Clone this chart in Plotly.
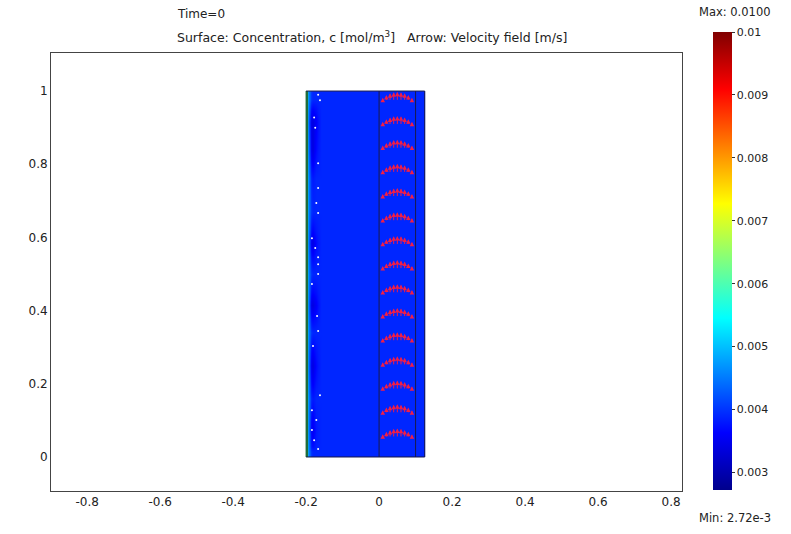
import plotly.graph_objects as go

# ---------------- data ----------------
# concentration field (mol/m^3): columns near the left wall (x edges) and row bands (y edges)
conc_x_edges = [-0.2, -0.1965, -0.1935, -0.190, -0.185, -0.178, -0.168, -0.150, 0.0, 0.1, 0.125]
conc_y_edges = [0.0, 0.03, 0.12, 0.2, 0.3, 0.38, 0.45, 0.55, 0.62, 0.72, 0.8, 0.88, 0.95, 1.0]
conc_rows = [
    [0.0058, 0.0050, 0.0044, 0.0041, 0.0039, 0.0039, 0.0039, 0.0039, 0.0039, 0.0039],
    [0.0058, 0.0049, 0.0043, 0.0037, 0.0035, 0.0038, 0.0039, 0.0039, 0.0039, 0.0039],
    [0.0058, 0.0050, 0.0044, 0.0040, 0.0038, 0.0039, 0.0039, 0.0039, 0.0039, 0.0039],
    [0.0058, 0.0049, 0.0042, 0.0036, 0.0034, 0.0037, 0.0039, 0.0039, 0.0039, 0.0039],
    [0.0058, 0.0050, 0.0044, 0.0041, 0.0039, 0.0039, 0.0039, 0.0039, 0.0039, 0.0039],
    [0.0058, 0.0049, 0.0042, 0.0035, 0.0034, 0.0036, 0.0039, 0.0039, 0.0039, 0.0039],
    [0.0058, 0.0050, 0.0044, 0.0041, 0.0039, 0.0039, 0.0039, 0.0039, 0.0039, 0.0039],
    [0.0058, 0.0049, 0.0042, 0.0036, 0.0034, 0.0037, 0.0039, 0.0039, 0.0039, 0.0039],
    [0.0058, 0.0050, 0.0044, 0.0041, 0.0039, 0.0039, 0.0039, 0.0039, 0.0039, 0.0039],
    [0.0058, 0.0050, 0.0044, 0.0040, 0.0038, 0.0039, 0.0039, 0.0039, 0.0039, 0.0039],
    [0.0058, 0.0049, 0.0042, 0.0036, 0.0034, 0.0037, 0.0039, 0.0039, 0.0039, 0.0039],
    [0.0058, 0.0049, 0.0041, 0.0035, 0.0034, 0.0036, 0.0039, 0.0039, 0.0039, 0.0039],
    [0.0058, 0.0050, 0.0044, 0.0041, 0.0039, 0.0039, 0.0039, 0.0039, 0.0039, 0.0039],
]
conc_min = 0.00272
conc_max = 0.0100

# subdomain geometry (boundaries)
domain_x = [-0.2, 0.0, 0.1, 0.125]
domain_y = [0.0, 1.0]

# velocity arrows: channel positions, tail heights, lengths (parabolic profile)
arrow_x = [0.01, 0.02, 0.03, 0.04, 0.05, 0.06, 0.07, 0.08, 0.09]
arrow_len = [0.010, 0.017, 0.022, 0.025, 0.026, 0.025, 0.022, 0.017, 0.010]
arrow_tail_y = [0.052, 0.118, 0.183, 0.249, 0.315, 0.381, 0.446, 0.512,
                0.578, 0.643, 0.709, 0.775, 0.841, 0.906, 0.972]

# white dotted marks near the left wall
dot_x = [-0.167, -0.162, -0.178, -0.175, -0.167, -0.167, -0.172, -0.167, -0.184, -0.175,
         -0.167, -0.167, -0.167, -0.184, -0.170, -0.167, -0.181, -0.162, -0.184, -0.172,
         -0.184, -0.178, -0.167]
dot_y = [0.990, 0.975, 0.928, 0.900, 0.803, 0.735, 0.694, 0.667, 0.598, 0.571,
         0.546, 0.527, 0.500, 0.473, 0.385, 0.344, 0.303, 0.169, 0.128, 0.101,
         0.074, 0.046, 0.022]

colorbar_ticks = [0.003, 0.004, 0.005, 0.006, 0.007, 0.008, 0.009, 0.01]
colorbar_ticktext = ["0.003", "0.004", "0.005", "0.006", "0.007", "0.008", "0.009", "0.01"]
x_ticks = [-0.8, -0.6, -0.4, -0.2, 0, 0.2, 0.4, 0.6, 0.8]
y_ticks = [0, 0.2, 0.4, 0.6, 0.8, 1]

# ---------------- figure ----------------
jet = [
    [0.0, "rgb(0,0,140)"],
    [0.125, "rgb(0,0,255)"],
    [0.375, "rgb(0,255,255)"],
    [0.625, "rgb(255,255,0)"],
    [0.875, "rgb(255,0,0)"],
    [1.0, "rgb(128,0,0)"],
]

FONT = "DejaVu Sans"
TXT = "#222"
fig = go.Figure()

fig.add_trace(go.Heatmap(
    x=conc_x_edges, y=conc_y_edges, z=conc_rows,
    colorscale=jet, zmin=conc_min, zmax=conc_max, zsmooth="best",
    hoverinfo="skip",
    colorbar=dict(
        lenmode="pixels", len=458, thickness=19,
        x=1.049, xanchor="left", y=0.525, yanchor="middle",
        xpad=0, ypad=0,
        tickvals=colorbar_ticks, ticktext=colorbar_ticktext,
        ticks="outside", ticklen=3, tickcolor="#333",
        tickfont=dict(family=FONT, size=11, color=TXT),
        outlinewidth=0,
    ),
))

# left wall green stripe
fig.add_trace(go.Scatter(x=[domain_x[0] + 0.002, domain_x[0] + 0.002], y=domain_y, mode="lines",
                         line=dict(color="#1f6e3c", width=2.5),
                         hoverinfo="skip", showlegend=False))

# subdomain boundary lines
for xv in domain_x[1:]:
    fig.add_trace(go.Scatter(x=[xv, xv], y=domain_y, mode="lines",
                             line=dict(color="#1a1a4a", width=1),
                             hoverinfo="skip", showlegend=False))
for yv in domain_y:
    fig.add_trace(go.Scatter(x=[domain_x[0], domain_x[-1]], y=[yv, yv], mode="lines",
                             line=dict(color="#1a1a4a", width=1),
                             hoverinfo="skip", showlegend=False))

fig.add_trace(go.Scatter(x=dot_x, y=dot_y, mode="markers",
                         marker=dict(color="white", size=2),
                         hoverinfo="skip", showlegend=False))

# velocity arrows
for ty in arrow_tail_y:
    for ax_, L in zip(arrow_x, arrow_len):
        fig.add_annotation(
            x=ax_, y=ty + L, ax=ax_, ay=ty,
            xref="x", yref="y", axref="x", ayref="y",
            showarrow=True, arrowhead=2, arrowsize=0.9, arrowwidth=1,
            arrowcolor="rgba(255,30,60,0.95)", text="",
        )

# titles and min/max labels
fig.add_annotation(text="Time=0", xref="paper", yref="paper", x=0.1965, y=1.089,
                   xanchor="left", yanchor="middle", showarrow=False,
                   font=dict(family=FONT, size=12, color=TXT))
fig.add_annotation(text="Surface: Concentration, c [mol/m<sup>3</sup>]   Arrow: Velocity field [m/s]",
                   xref="paper", yref="paper", x=0.1965, y=1.0365,
                   xanchor="left", yanchor="middle", showarrow=False,
                   font=dict(family=FONT, size=12.5, color=TXT))
fig.add_annotation(text="Max: 0.0100", xref="paper", yref="paper", x=1.084, y=1.094,
                   xanchor="center", yanchor="middle", showarrow=False,
                   font=dict(family=FONT, size=11.5, color=TXT))
fig.add_annotation(text="Min: 2.72e-3", xref="paper", yref="paper", x=1.084, y=-0.062,
                   xanchor="center", yanchor="middle", showarrow=False,
                   font=dict(family=FONT, size=11.5, color=TXT))

fig.update_xaxes(range=[-0.899, 0.83], tickvals=x_ticks,
                 ticktext=[f"{v:g}" for v in x_ticks],
                 showgrid=False, zeroline=False, showline=True, mirror=True,
                 linecolor="#444", linewidth=1, ticks="",
                 tickfont=dict(family=FONT, size=12, color=TXT))
fig.update_yaxes(range=[-0.093, 1.104], tickvals=y_ticks,
                 ticktext=[f"{v:g}" for v in y_ticks],
                 showgrid=False, zeroline=False, showline=True, mirror=True,
                 linecolor="#444", linewidth=1, ticks="",
                 tickfont=dict(family=FONT, size=12, color=TXT))

fig.update_layout(
    width=791, height=534,
    margin=dict(l=51, r=109, t=53, b=43),
    paper_bgcolor="white", plot_bgcolor="white",
    showlegend=False,
)

fig.write_html("out.html", config={"displayModeBar": False},
               post_script="document.body.style.margin='0';")
